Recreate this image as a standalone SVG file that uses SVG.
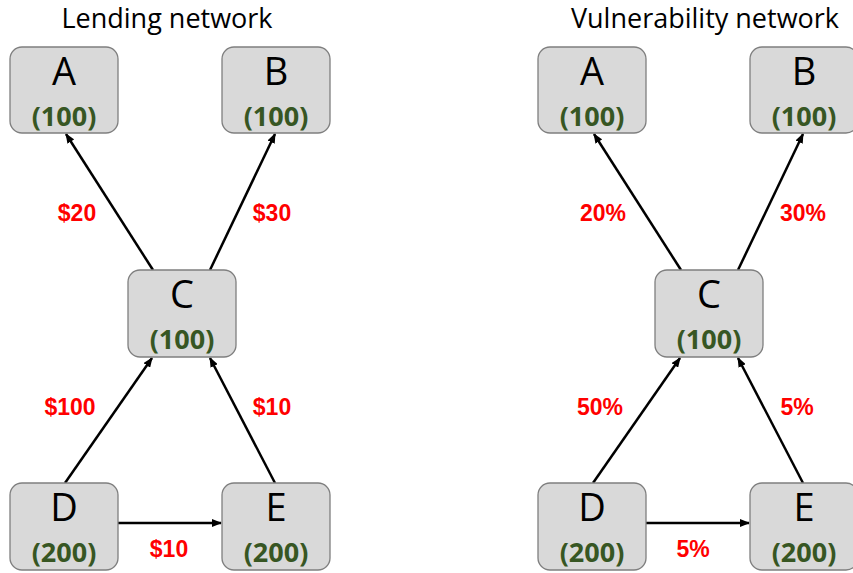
<svg xmlns="http://www.w3.org/2000/svg" width="853" height="573" viewBox="0 0 853 573">
<style>
.box{fill:#d9d9d9;stroke:#7f7f7f;stroke-width:1.3}
.ltr{font-family:"Open Sans","Noto Sans",sans-serif;font-size:38px;fill:#000;text-anchor:middle}
.val{font-family:"Open Sans","Noto Sans",sans-serif;font-weight:bold;font-size:27px;fill:#375623;text-anchor:middle}
.ttl{font-family:"Open Sans","Noto Sans",sans-serif;font-size:27px;fill:#000;text-anchor:middle}
.lbl{font-family:"Liberation Sans",Arial,sans-serif;font-weight:bold;font-size:23px;fill:#ff0000;text-anchor:middle}
.edge{stroke:#000;stroke-width:2.5;fill:none;marker-end:url(#ah)}
</style>
<defs>
<marker id="ah" markerWidth="10" markerHeight="8" refX="9" refY="4" orient="auto" markerUnits="userSpaceOnUse">
<path d="M0,0 L10,4 L0,8 Z" fill="#000"/>
</marker>
</defs>
<text class="ttl" x="167" y="28">Lending network</text>
<text class="ttl" x="705" y="28">Vulnerability network</text>
<g id="connectors">
<line class="edge" x1="153" y1="270" x2="66" y2="134"/>
<line class="edge" x1="210" y1="270" x2="275" y2="134"/>
<line class="edge" x1="65" y1="483" x2="152" y2="358"/>
<line class="edge" x1="275" y1="483" x2="210" y2="358"/>
<line class="edge" x1="118" y1="523" x2="221" y2="523"/>
<line class="edge" x1="681" y1="270" x2="594" y2="134"/>
<line class="edge" x1="738" y1="270" x2="803" y2="134"/>
<line class="edge" x1="593" y1="483" x2="680" y2="358"/>
<line class="edge" x1="803" y1="483" x2="738" y2="358"/>
<line class="edge" x1="646" y1="523" x2="749" y2="523"/>
</g>
<g id="edge-labels">
<text class="lbl" x="77" y="221">$20</text>
<text class="lbl" x="272" y="221">$30</text>
<text class="lbl" x="70" y="415">$100</text>
<text class="lbl" x="272" y="415">$10</text>
<text class="lbl" x="169" y="557">$10</text>
<text class="lbl" x="603" y="221">20%</text>
<text class="lbl" x="803" y="221">30%</text>
<text class="lbl" x="600" y="415">50%</text>
<text class="lbl" x="797" y="415">5%</text>
<text class="lbl" x="693" y="557">5%</text>
</g>
<g id="L-A"><rect class="box" x="10" y="47" width="108" height="86" rx="12"/><text class="ltr" x="64" y="85">A</text><text class="val" x="64" y="126">(100)</text></g>
<g id="L-B"><rect class="box" x="222" y="47" width="108" height="86" rx="12"/><text class="ltr" x="276" y="85">B</text><text class="val" x="276" y="126">(100)</text></g>
<g id="L-C"><rect class="box" x="128" y="270" width="108" height="87" rx="12"/><text class="ltr" x="182" y="308">C</text><text class="val" x="182" y="349">(100)</text></g>
<g id="L-D"><rect class="box" x="10" y="483" width="108" height="87" rx="12"/><text class="ltr" x="64" y="521">D</text><text class="val" x="64" y="562">(200)</text></g>
<g id="L-E"><rect class="box" x="222" y="483" width="108" height="87" rx="12"/><text class="ltr" x="276" y="521">E</text><text class="val" x="276" y="562">(200)</text></g>
<g id="V-A"><rect class="box" x="538" y="47" width="108" height="86" rx="12"/><text class="ltr" x="592" y="85">A</text><text class="val" x="592" y="126">(100)</text></g>
<g id="V-B"><rect class="box" x="750" y="47" width="108" height="86" rx="12"/><text class="ltr" x="804" y="85">B</text><text class="val" x="804" y="126">(100)</text></g>
<g id="V-C"><rect class="box" x="655" y="270" width="108" height="87" rx="12"/><text class="ltr" x="709" y="308">C</text><text class="val" x="709" y="349">(100)</text></g>
<g id="V-D"><rect class="box" x="538" y="483" width="108" height="87" rx="12"/><text class="ltr" x="592" y="521">D</text><text class="val" x="592" y="562">(200)</text></g>
<g id="V-E"><rect class="box" x="750" y="483" width="108" height="87" rx="12"/><text class="ltr" x="804" y="521">E</text><text class="val" x="804" y="562">(200)</text></g>
</svg>
